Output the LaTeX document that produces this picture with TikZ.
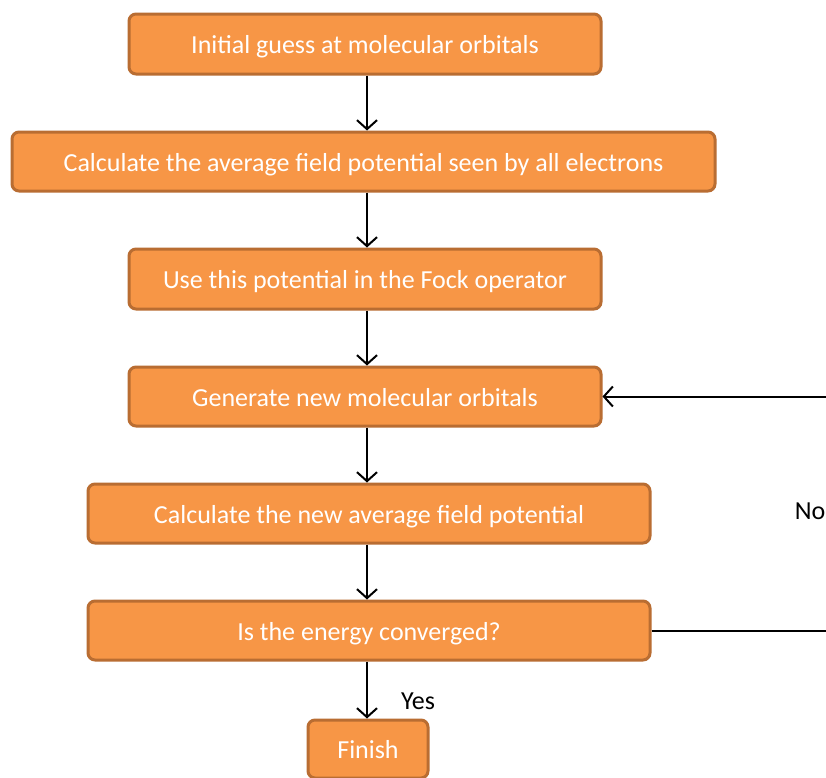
\documentclass[tikz,border=0pt]{standalone}
\usepackage{fontspec}
\setmainfont{Carlito}
\usetikzlibrary{arrows.meta}
\definecolor{boxfill}{HTML}{F79646}
\definecolor{boxedge}{HTML}{B96D32}
\begin{document}
\begin{tikzpicture}[x=1pt,y=-1pt,
  box/.style={draw=boxedge, line width=3pt, fill=boxfill, rounded corners=7pt, text=white, font=\fontsize{26}{30}\selectfont, inner sep=0pt, text height=24pt, text depth=4.5pt, anchor=center},
  flow/.style={draw=black, line width=2pt, -{Straight Barb[length=9pt,width=20pt,line width=2pt]}},
  lab/.style={font=\fontsize{26}{30}\selectfont, text=black}]
\useasboundingbox[fill=white] (0,0) rectangle (826,777);
\node[box, minimum width=472pt, minimum height=60pt] (n1) at (365,44) {Initial guess at molecular orbitals};
\node[box, minimum width=703pt, minimum height=59pt] (n2) at (363.5,161.5) {Calculate the average field potential seen by all electrons};
\node[box, minimum width=472pt, minimum height=60pt] (n3) at (365,279) {Use this potential in the Fock operator};
\node[box, minimum width=472pt, minimum height=59pt] (n4) at (365,396.5) {Generate new molecular orbitals};
\node[box, minimum width=562pt, minimum height=59pt] (n5) at (369,513.5) {Calculate the new average field potential};
\node[box, minimum width=562pt, minimum height=59pt] (n6) at (369,630.5) {Is the energy converged?};
\node[box, minimum width=120pt, minimum height=58pt] (n7) at (368,749) {Finish};
\coordinate (r4) at (826,396.5);
\coordinate (r6) at (826,630.5);
\draw[flow] (n1.south -| 367,0) -- (n2.north -| 367,0);
\draw[flow] (n2.south -| 367,0) -- (n3.north -| 367,0);
\draw[flow] (n3.south -| 367,0) -- (n4.north -| 367,0);
\draw[flow] (n4.south -| 367,0) -- (n5.north -| 367,0);
\draw[flow] (n5.south -| 367,0) -- (n6.north -| 367,0);
\draw[flow] (n6.south -| 367,0) -- (n7.north -| 367,0);
\draw[flow] (r4) -- (n4.east);
\draw[draw=black, line width=2pt] (n6.east) -- (r6);
\node[lab] (yes) at (418,701) {Yes};
\node[lab] (no) at (810,511) {No};
\end{tikzpicture}
\end{document}
